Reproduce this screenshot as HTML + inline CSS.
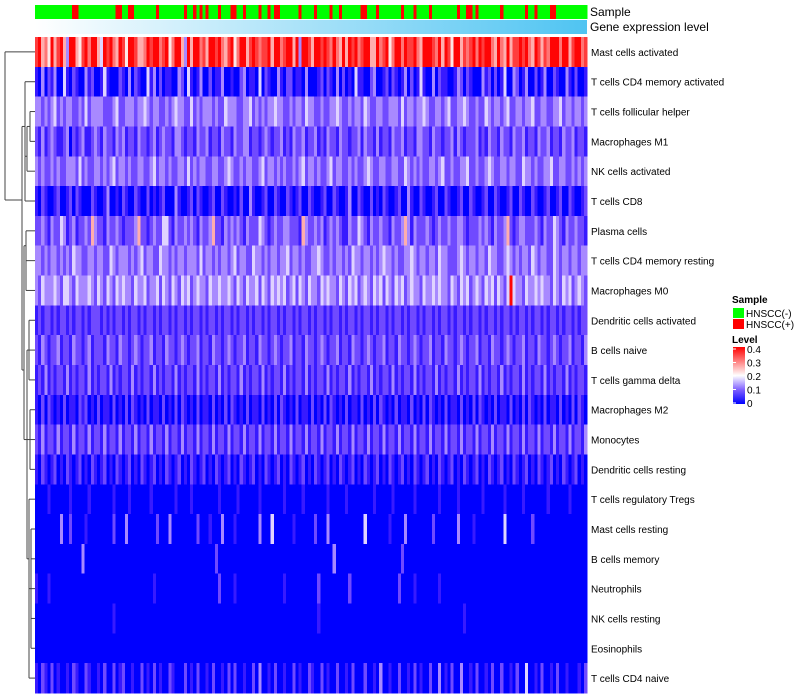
<!DOCTYPE html>
<html><head><meta charset="utf-8"><style>
html,body{margin:0;padding:0;background:#fff;}
svg{display:block;font-family:"Liberation Sans",sans-serif;}
</style></head><body>
<svg id="chart" width="800" height="700" viewBox="0 0 800 700">
<defs>
<linearGradient id="geneGrad" x1="0" x2="1" y1="0" y2="0"><stop offset="0" stop-color="#ffffff"/><stop offset="1" stop-color="#4fc4f2"/></linearGradient>
<linearGradient id="levelGrad" x1="0" x2="0" y1="1" y2="0"><stop offset="0" stop-color="#0000ff"/><stop offset="0.25" stop-color="#8060ff"/><stop offset="0.5" stop-color="#ffffff"/><stop offset="1" stop-color="#ff0000"/></linearGradient>
</defs>
<g id="sample-bar"></g>
<rect x="35" y="20" width="552" height="14" fill="url(#geneGrad)"/>
<text x="590" y="16" font-size="12">Sample</text>
<text x="590" y="31" font-size="12">Gene expression level</text>
<g id="cells" shape-rendering="crispEdges"></g>
<g id="rowlabels"></g>
<g id="dendro" stroke="#444" stroke-width="1" fill="none"></g>
<g>
<text x="732" y="303" font-size="10" font-weight="bold">Sample</text>
<rect x="733" y="308" width="11" height="10" fill="#00ff00"/>
<text x="746" y="317" font-size="10">HNSCC(-)</text>
<rect x="733" y="319" width="11" height="10" fill="#ff0000"/>
<text x="746" y="328" font-size="10">HNSCC(+)</text>
<text x="732" y="343" font-size="10" font-weight="bold">Level</text>
<rect x="733" y="347" width="12" height="57" fill="url(#levelGrad)"/>
<g id="levelticks"></g>
</g>
</svg>
<script>
const rowNames = ["Mast cells activated","T cells CD4 memory activated","T cells follicular helper","Macrophages M1","NK cells activated","T cells CD8","Plasma cells","T cells CD4 memory resting","Macrophages M0","Dendritic cells activated","B cells naive","T cells gamma delta","Macrophages M2","Monocytes","Dendritic cells resting","T cells regulatory  Tregs","Mast cells resting","B cells memory","Neutrophils","NK cells resting","Eosinophils","T cells CD4 naive"];
const sampleGroups = "0000000000001100000000000011001100000001000000001001010100010001100100001001011000000100001000010010000001100010000000100010000100000000100110100000001000000010010000110000000000";
const levelTicks = ["0","0.1","0.2","0.3","0.4"];
const levelMax = 0.4;
const rowDigits = [
"8967596896399658979964989769859986679899789579963969978699897689579968987889699789969399869989879769698978996697895799798897699987969859968789798997697696889897698687999799689978",
"1030213004102100312001410002103021004130201100320410130020113001002301104021003102201103000120210302010411002300120210130201410030211001320210003120201400320130020130021003102001",
"3323234232332232423333222342233323343233223234332242323332322433322334232323343322323324332232233432232332432233223332423323343223323422334322322432332342233233422332233423323323",
"2131232112302123112321322132312213221231232213321221322312213221322331221232122312132231223121322132212231322131221322312213322132212231321222312132213221322312213223122132231221",
"3232232322333242322332323423323223322342332322332423233223322343223233223423323232232342332322342332232322343223322332243232322332342232233422322343223323322433232233422332232323",
"1021001200120210002100130010210021002010120003100120210012002100102003100120021002101200210012002100130021002010210012003100210012002100120021001200210012002100210012001200210012",
"2232132243123122326322132232122236221232244213223232132236221323232132224321232233222163223231232321132243213223221322363132223212322322332122232321322362123322232132243213223221",
"3323233232324332233233224323332323423322433232332333242332323323423322433232332334233232233432232332324332332323433232233432332332433222343233233243322343232332432332243233233233",
"3243334324432433343243243243433243342334243243243423433243343343243243342432434342342432433243433243243423432434243243423433243343433243243423432434243249433243343433243243423432",
"1212212122121221212221212122121221212212122121221212212122121221212212122121221212212122121221212212122121221212212122121221212212122121221212212122121221212212122121221212212122",
"2132122312213221231222132213221232122312213221232122312213221232122312213221232122312213221232122312213221232122312213221232122312213221232122312213221232122312213221232122312213",
"1213121221312122131212213121221312122131212213121221312122131212213121221312122131212213121221312122131212213121221312122131212213121221312122131212213121221312122131212213121221",
"1020210102011021201020110201020210102011020102021010201102010202101020110201020210102011020102021010201102010202101020110201020210102011020102021010201102010202101020110201020210",
"2131221312213122131221312213122131221312213122131221312213122131221312213122131221312213122131221312213122131221312213122131221312213122131221312213122131221312213122131221312213",
"1021012010210120102101201021012010210120102101201021012010210120102101201021012010210120102101201021012010210120102101201021012010210120102101201021012010210120102101201021012010",
"0000100000010000010000000100001000000100000001000010000000010000010000001000000010000010000000100000100000000100000100000010000000100000100000001000000100000100000001000000100000",
"0000000030020000100000000200030000000002000300000000200010003000100000003000400000010000002000300000000000400000001000030000000020000000300001000000000400000000200000000000000000",
"0000000000000003000000000000000000000000000000000000000000200000000000000000000000000000000000003000000000000000000000200000000000000000000000000000000000000000000000000000000000",
"1000100000000000000000000000000000000010000000000000000000020000100000000000000010000000000200000000020000000000000002000010000000100000000000000000000000000000000000000000000000",
"0000000000000000000000000100000000000000000000000000000000000000000000000000000000000000000100000000000000000000000000000000000000000000001000000000000000000000000000000000000000",
"0000000000000000000000000000000000000000000000000000000000000000000000000000000000000000000000000000000000000000000000000000000000000000000000000000000000000000000000000000000000",
"1021020100102100210010200201200100201020100210002010200102001020200100203001020010020100210020100200102000200103001002001020100200301020030010200102002001020040010200102001000102"
];
const NS="http://www.w3.org/2000/svg";
const X0=35, X1=587, Y0=37, Y1=693;
const rowH=(Y1-Y0)/rowNames.length;
function xScale(i,n){return X0+(X1-X0)*i/n;}
function yScale(r){return Y0+rowH*r;}
function colorOf(v){
  const t=Math.max(0,Math.min(1,v/levelMax));
  let r,g,b;
  if(t<0.5){const k=t/0.5;r=Math.round(255*k);g=Math.round(255*Math.pow(k,1.5));b=255;}
  else{const k=(t-0.5)/0.5;r=255;g=Math.round(255*(1-k));b=Math.round(255*(1-k));}
  return `rgb(${r},${g},${b})`;
}
const sb=document.getElementById('sample-bar');
for(let i=0;i<sampleGroups.length;i++){
  const n=sampleGroups.length;
  const rc=document.createElementNS(NS,'rect');
  
  
  rc.setAttribute('x',xScale(i,n));rc.setAttribute('y',5);
  rc.setAttribute('width',xScale(i+1,n)-xScale(i,n)+0.4);rc.setAttribute('height',14);
  rc.setAttribute('fill',sampleGroups[i]==='1'?'#ff0000':'#00ff00');
  rc.setAttribute('shape-rendering','crispEdges');
  sb.appendChild(rc);
}
const cg=document.getElementById('cells');
rowDigits.forEach((s,r)=>{
  const n=s.length;
  for(let i=0;i<n;i++){
    const v=parseInt(s[i],10)*0.044;
    const rc=document.createElementNS(NS,'rect');
    
    
    rc.setAttribute('x',xScale(i,n));rc.setAttribute('y',yScale(r));
    rc.setAttribute('width',xScale(i+1,n)-xScale(i,n)+0.4);rc.setAttribute('height',rowH+0.4);
    rc.setAttribute('fill',colorOf(v));
    cg.appendChild(rc);
  }
});
const rl=document.getElementById('rowlabels');
rowNames.forEach((nm,r)=>{
  const t=document.createElementNS(NS,'text');
  
  
  t.setAttribute('x',591);t.setAttribute('y',yScale(r)+rowH/2+4);
  t.setAttribute('font-size','10');t.setAttribute('xml:space','preserve');
  t.textContent=nm;rl.appendChild(t);
});
const lt=document.getElementById('levelticks');
levelTicks.forEach((lab,i)=>{
  const y=403-54*(parseFloat(lab)/levelMax);
  const t=document.createElementNS(NS,'text');
  
  
  t.setAttribute('x',747);t.setAttribute('y',y+4);t.setAttribute('font-size','10');
  t.textContent=lab;lt.appendChild(t);
  const l=document.createElementNS(NS,'line');
  
  
  l.setAttribute('x1',733);l.setAttribute('x2',736);l.setAttribute('y1',y);l.setAttribute('y2',y);
  l.setAttribute('stroke','#fff');lt.appendChild(l);
});
const dg=document.getElementById('dendro');
const cy=r=>yScale(r)+rowH/2;
const segs=[
 [5,cy(0),5,200],[5,cy(0),35,cy(0)],[5,200,22,200],
 [22,cy(2.5),22,370],
 [25,cy(1),25,cy(3.5)],[25,cy(1),35,cy(1)],
 [27,cy(2.5),27,cy(4)],[27,cy(4),35,cy(4)],[27,cy(2.5),30,cy(2.5)],
 [30,cy(2),30,cy(3)],[30,cy(2),35,cy(2)],[30,cy(3),35,cy(3)],
 [25,cy(3.5),27,cy(3.5)],
 [25,cy(5),35,cy(5)],[25,cy(3.5),25,cy(5)],
 [22,cy(2.5),25,cy(2.5)],[22,370,24,370],
 [24,cy(6.5),24,cy(13)],[24,cy(6.5),26,cy(6.5)],
 [26,cy(6),26,cy(8)],[26,cy(6),35,cy(6)],[26,cy(8),35,cy(8)],[26,cy(7),35,cy(7)],
 [24,cy(13),27,cy(13)],
 [27,cy(10),27,cy(17)],
 [29,cy(9),29,cy(11)],[29,cy(9),35,cy(9)],[29,cy(10),35,cy(10)],[29,cy(11),35,cy(11)],[27,cy(10),29,cy(10)],
 [30,cy(12),30,cy(14)],[30,cy(12),35,cy(12)],[30,cy(13),35,cy(13)],[30,cy(14),35,cy(14)],[27,cy(13),30,cy(13)],
 [27,cy(17),29,cy(17)],
 [29,cy(15),29,cy(21)],[29,cy(15),35,cy(15)],[29,cy(21),35,cy(21)],
 [31,cy(16),31,cy(20)],[29,cy(18),31,cy(18)],
 [31,cy(16),35,cy(16)],[31,cy(17),35,cy(17)],[31,cy(18),35,cy(18)],[31,cy(19),35,cy(19)],[31,cy(20),35,cy(20)]
];
segs.forEach(s=>{
  const l=document.createElementNS(NS,'line');
  
  
  l.setAttribute('x1',s[0]);l.setAttribute('y1',s[1]);l.setAttribute('x2',s[2]);l.setAttribute('y2',s[3]);
  dg.appendChild(l);
});
</script>
</body></html>
